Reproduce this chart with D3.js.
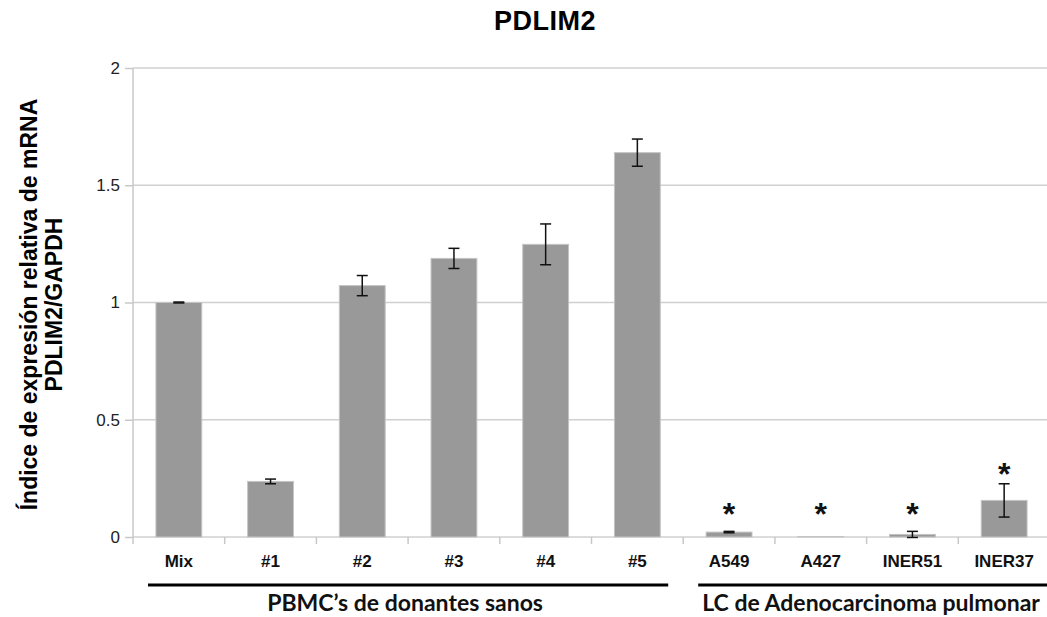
<!DOCTYPE html>
<html>
<head>
<meta charset="utf-8">
<script src="https://cdn.jsdelivr.net/npm/d3@7"></script>
<style>
  body { margin: 0; background: #fff; }
  svg { display: block; }
</style>
</head>
<body>
<svg id="chart" width="1047" height="617"></svg>
<script>
// datos
const categories = ["Mix", "#1", "#2", "#3", "#4", "#5", "A549", "A427", "INER51", "INER37"];
const values = [1.0, 0.237, 1.072, 1.188, 1.248, 1.639, 0.021, 0.002, 0.011, 0.156];
const errors = [0.002, 0.01, 0.043, 0.043, 0.087, 0.058, 0.003, 0.0, 0.013, 0.071];
const significant = [false, false, false, false, false, false, true, true, true, true];
const yTicks = [0, 0.5, 1, 1.5, 2];
const groupNames = ["PBMC\u2019s de donantes sanos", "LC de Adenocarcinoma pulmonar"];
const groupStart = ["Mix", "A549"];
const groupEnd = ["#5", "INER37"];

const svg = d3.select("#chart");
const W = 1047;
const plotLeft = 133, plotRight = 1050, plotTop = 68, plotBottom = 537;
const sans = "'Liberation Sans', Arial, sans-serif";

const x = d3.scaleBand()
  .domain(categories)
  .range([plotLeft, plotRight])
  .paddingInner(0.5)
  .paddingOuter(0.25);

const y = d3.scaleLinear().domain([0, 2]).range([plotBottom, plotTop]);

// titulo
svg.append("text")
  .attr("x", 545)
  .attr("y", 30)
  .attr("text-anchor", "middle")
  .attr("font-family", sans)
  .attr("font-weight", "bold")
  .attr("font-size", 27)
  .attr("letter-spacing", 0.5)
  .attr("fill", "#000")
  .text("PDLIM2");

// rejilla + eje y
const yAxis = svg.append("g")
  .attr("transform", `translate(${plotLeft},0)`)
  .call(d3.axisLeft(y).tickValues(yTicks).tickSize(8).tickPadding(5).tickFormat(d3.format("")));
yAxis.select(".domain").remove();
yAxis.selectAll(".tick line").attr("stroke", "#c8c8c8").attr("stroke-width", 1.5);
yAxis.selectAll(".tick text")
  .attr("font-family", sans)
  .attr("font-size", 17)
  .attr("fill", "#222");

svg.append("g")
  .selectAll("line")
  .data(yTicks)
  .join("line")
  .attr("x1", plotLeft)
  .attr("x2", W)
  .attr("y1", (d) => y(d))
  .attr("y2", (d) => y(d))
  .attr("stroke", "#d0d0d0")
  .attr("stroke-width", 1.5);

svg.append("line")
  .attr("x1", plotLeft).attr("x2", plotLeft)
  .attr("y1", plotTop).attr("y2", plotBottom + 7)
  .attr("stroke", "#c8c8c8")
  .attr("stroke-width", 1.5);

// marcas del eje x entre categorias
svg.append("g")
  .selectAll("line")
  .data(categories.slice(1))
  .join("line")
  .attr("x1", (d) => x(d) - x.step() * 0.25)
  .attr("x2", (d) => x(d) - x.step() * 0.25)
  .attr("y1", plotBottom)
  .attr("y2", plotBottom + 7)
  .attr("stroke", "#c8c8c8")
  .attr("stroke-width", 1.5);

// barras
svg.append("g")
  .selectAll("rect")
  .data(categories)
  .join("rect")
  .attr("x", (d) => x(d))
  .attr("width", x.bandwidth())
  .attr("y", (d, i) => y(values[i]))
  .attr("height", (d, i) => y(0) - y(values[i]))
  .attr("fill", "#999999")
  .attr("stroke", "#c4c4c4")
  .attr("stroke-width", 1);

// barras de error
const err = svg.append("g").attr("stroke", "#111").attr("stroke-width", 1.5);
categories.forEach((c, i) => {
  if (errors[i] <= 0) return;
  const cx = x(c) + x.bandwidth() / 2;
  const y1 = y(values[i] + errors[i]);
  const y2 = y(values[i] - errors[i]);
  err.append("line").attr("x1", cx).attr("x2", cx).attr("y1", y1).attr("y2", y2);
  err.append("line").attr("x1", cx - 5.5).attr("x2", cx + 5.5).attr("y1", y1).attr("y2", y1);
  err.append("line").attr("x1", cx - 5.5).attr("x2", cx + 5.5).attr("y1", y2).attr("y2", y2);
});

// asteriscos
svg.append("g")
  .selectAll("text")
  .data(categories.filter((d, i) => significant[i]))
  .join("text")
  .attr("x", (d) => x(d) + x.bandwidth() / 2)
  .attr("y", (d) => {
    const i = categories.indexOf(d);
    const center = Math.min(y(values[i] + errors[i]) - 17, y(0) - 30);
    return center + 18;
  })
  .attr("text-anchor", "middle")
  .attr("font-family", sans)
  .attr("font-weight", "bold")
  .attr("font-size", 32)
  .attr("fill", "#111")
  .text("*");

// etiquetas de categorias
svg.append("g")
  .selectAll("text")
  .data(categories)
  .join("text")
  .attr("x", (d) => x(d) + x.bandwidth() / 2)
  .attr("y", 567)
  .attr("text-anchor", "middle")
  .attr("font-family", sans)
  .attr("font-weight", "bold")
  .attr("font-size", 17)
  .attr("fill", "#111")
  .text((d) => d);

// grupos
groupNames.forEach((g, i) => {
  const x0 = x(groupStart[i]) - x.step() * 0.25 + 15;
  const bandEnd = x(groupEnd[i]) + x.bandwidth() + x.step() * 0.25;
  const x1 = i === groupNames.length - 1 ? bandEnd : bandEnd - 15;
  svg.append("line")
    .attr("x1", x0).attr("x2", x1)
    .attr("y1", 585).attr("y2", 585)
    .attr("stroke", "#000")
    .attr("stroke-width", 3);
  svg.append("text")
    .attr("x", (x0 + x1) / 2 - 3)
    .attr("y", 611)
    .attr("text-anchor", "middle")
    .attr("font-family", "Lato, 'Open Sans', sans-serif")
    .attr("font-weight", "bold")
    .attr("font-size", 23)
    .attr("fill", "#111")
    .text(g);
});

// titulo eje y
const yLabel = svg.append("text")
  .attr("transform", `translate(37,${(plotTop + plotBottom) / 2 + 2}) rotate(-90)`)
  .attr("text-anchor", "middle")
  .attr("font-family", sans)
  .attr("font-weight", "bold")
  .attr("font-size", 23)
  .attr("fill", "#000");
yLabel.append("tspan").attr("x", 0).attr("dy", 0).text("Índice de expresión relativa de mRNA");
yLabel.append("tspan").attr("x", 0).attr("dy", 25).text("PDLIM2/GAPDH");
</script>
</body>
</html>
